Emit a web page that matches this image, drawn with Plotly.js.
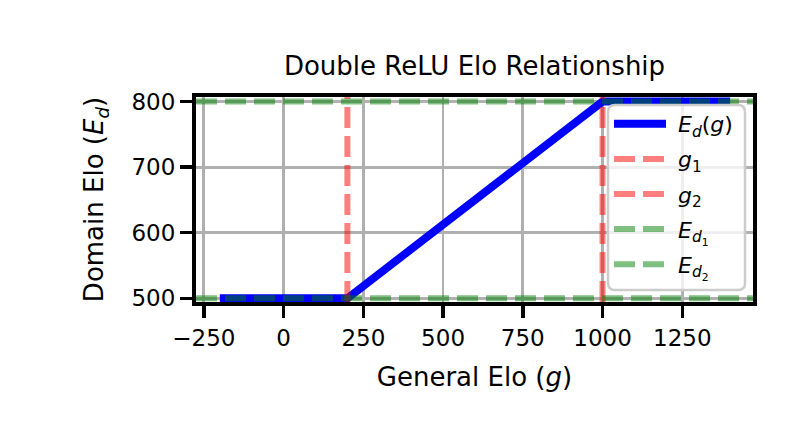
<!DOCTYPE html>
<html>
<head>
<meta charset="utf-8">
<script src="https://cdn.plot.ly/plotly-3.0.1.min.js"></script>
<style>html,body{margin:0;padding:0;background:#fff;}#chart{width:808px;height:444px;}</style>
</head>
<body>
<div id="chart"></div>
<script>
// ---- data ----
const generalElo = [-200, 200, 1000, 1400];
const domainElo = [500, 500, 800, 800];
const g1 = 200;
const g2 = 1000;
const ed1 = 500;
const ed2 = 800;
const xTickVals = [-250, 0, 250, 500, 750, 1000, 1250];
const yTickVals = [500, 600, 700, 800];
const seriesNames = [
  '<i>E</i><sub><i>d</i></sub>(<i>g</i>)',
  '<i>g</i><sub>1</sub>',
  '<i>g</i><sub>2</sub>',
  '<i>E</i><sub><i>d</i><sub>1</sub></sub>',
  '<i>E</i><sub><i>d</i><sub>2</sub></sub>'
];

// ---- layout constants ----
const xRange = [-274.7, 1471.8];
const yRange = [494.4, 806.9];
const FONT = 'DejaVu Sans, Liberation Sans, sans-serif';
const redDash = {color: 'rgba(255,0,0,0.5)', width: 6, dash: '21px,8px'};
const greenDash = {color: 'rgba(0,128,0,0.5)', width: 6, dash: '21px,8px'};
const pad = '\u00a0';

const traces = [
  {x: generalElo, y: domainElo, mode: 'lines', name: pad + seriesNames[0],
   line: {color: '#0000ff', width: 8}, legendgroup: 'a'},
  {x: [g1, g1], y: yRange, mode: 'lines', name: pad + seriesNames[1], line: redDash, legendgroup: 'b'},
  {x: [g2, g2], y: yRange, mode: 'lines', name: pad + seriesNames[2], line: redDash, legendgroup: 'c'},
  {x: xRange, y: [ed1, ed1], mode: 'lines', name: pad + seriesNames[3], line: greenDash, legendgroup: 'd'},
  {x: xRange, y: [ed2, ed2], mode: 'lines', name: pad + seriesNames[4], line: greenDash, legendgroup: 'e'}
];

// rounded legend frame in paper coords
const L = 196, T = 97, W = 557, H = 205;
function px2x(p){return (p - L) / W;}
function px2y(p){return (T + H - p) / H;}
const bx0 = px2x(608), bx1 = px2x(745), by0 = px2y(290), by1 = px2y(105);
const rx = 7 / W, ry = 7 / H;
const framePath = 'M' + (bx0 + rx) + ',' + by1 +
  ' L' + (bx1 - rx) + ',' + by1 + ' Q' + bx1 + ',' + by1 + ' ' + bx1 + ',' + (by1 - ry) +
  ' L' + bx1 + ',' + (by0 + ry) + ' Q' + bx1 + ',' + by0 + ' ' + (bx1 - rx) + ',' + by0 +
  ' L' + (bx0 + rx) + ',' + by0 + ' Q' + bx0 + ',' + by0 + ' ' + bx0 + ',' + (by0 + ry) +
  ' L' + bx0 + ',' + (by1 - ry) + ' Q' + bx0 + ',' + by1 + ' ' + (bx0 + rx) + ',' + by1 + ' Z';

const axisCommon = {
  showline: true, linecolor: '#000', linewidth: 4, mirror: true,
  ticks: 'outside', ticklen: 12, tickwidth: 3.5, tickcolor: '#000',
  showgrid: true, gridcolor: '#b0b0b0', gridwidth: 2.8, zeroline: false,
  tickfont: {family: FONT, size: 23, color: '#000'}
};

const layout = {
  width: 808, height: 444,
  margin: {l: L, r: 808 - L - W, t: T, b: 444 - T - H, pad: 0},
  paper_bgcolor: '#fff', plot_bgcolor: '#fff',
  font: {family: FONT, color: '#000'},
  title: {text: 'Double ReLU Elo Relationship', font: {family: FONT, size: 26, color: '#000'},
          x: 0.5, xref: 'paper', xanchor: 'center', y: 1, yref: 'paper', yanchor: 'bottom', pad: {b: 22}},
  xaxis: Object.assign({}, axisCommon, {
    range: xRange, tickmode: 'array', tickvals: xTickVals,
    title: {text: 'General Elo (<i>g</i>)', font: {family: FONT, size: 26, color: '#000'}, standoff: 19}
  }),
  yaxis: Object.assign({}, axisCommon, {
    range: yRange, tickmode: 'array', tickvals: yTickVals,
    title: {text: 'Domain Elo (<i>E</i><sub><i>d</i></sub>)', font: {family: FONT, size: 26, color: '#000'}, standoff: 21}
  }),
  showlegend: true,
  legend: {x: px2x(609), xanchor: 'left', y: px2y(103), yanchor: 'top',
           bgcolor: 'rgba(0,0,0,0)', borderwidth: 0, itemwidth: 52, tracegroupgap: 3.5,
           font: {family: FONT, size: 22, color: '#000'}},
  shapes: [{type: 'path', xref: 'paper', yref: 'paper', path: framePath, layer: 'above',
            fillcolor: 'rgba(255,255,255,0.8)', line: {color: '#cccccc', width: 2.5}}]
};

Plotly.newPlot('chart', traces, layout, {staticPlot: true, displayModeBar: false});
</script>
</body>
</html>
